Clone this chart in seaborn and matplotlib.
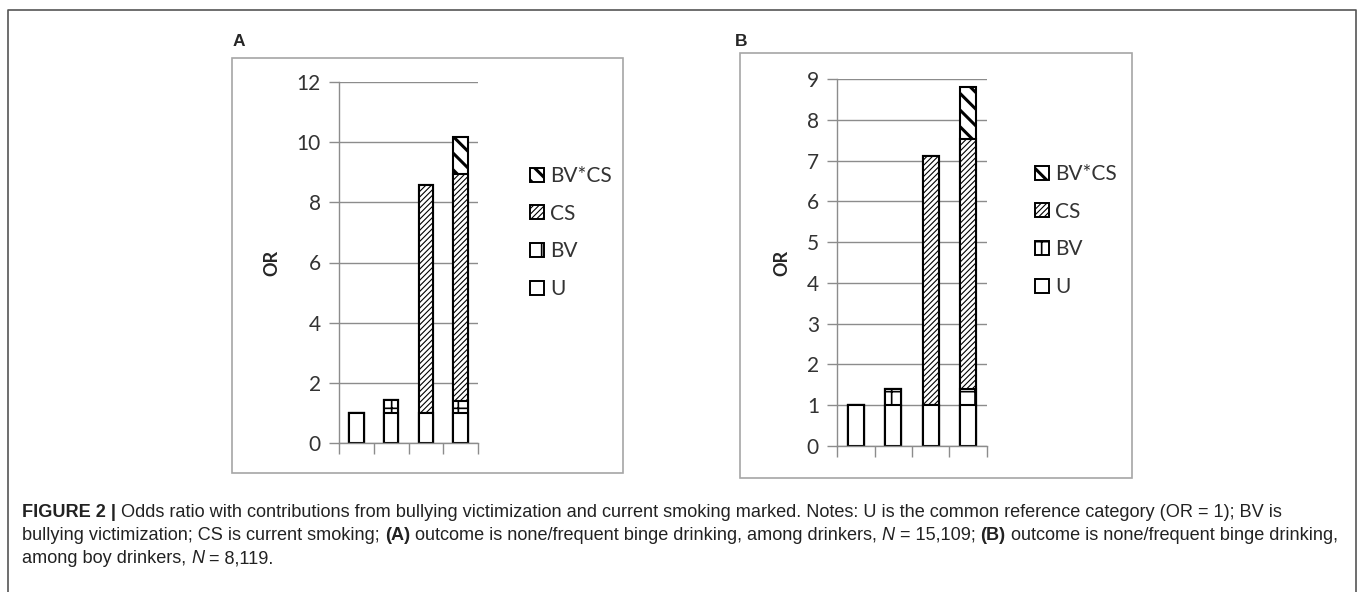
"""
Stacked odds-ratio bars (Excel look) for two panels with a figure caption.
"""

import matplotlib
matplotlib.use("Agg")
import matplotlib.pyplot as plt
from matplotlib.patches import Patch, Rectangle
from matplotlib.lines import Line2D
from matplotlib.font_manager import FontProperties
import seaborn as sns
import pandas as pd

W, H = 1357, 592

groups = ["U", "U+BV", "U+CS", "U+BV+CS"]
layers = ["U", "BV", "CS", "BV*CS"]

# panel A: drinkers
a_u = [1.0, 1.0, 1.0, 1.0]
a_bv = [0.0, 0.42, 0.0, 0.38]
a_cs = [0.0, 0.0, 7.58, 7.57]
a_bvcs = [0.0, 0.0, 0.0, 1.22]
a_yticks = [0, 2, 4, 6, 8, 10, 12]

# panel B: boy drinkers
b_u = [1.0, 1.0, 1.0, 1.0]
b_bv = [0.0, 0.41, 0.0, 0.41]
b_cs = [0.0, 0.0, 6.12, 6.13]
b_bvcs = [0.0, 0.0, 0.0, 1.27]
b_yticks = [0, 1, 2, 3, 4, 5, 6, 7, 8, 9]

HATCH = {"U": "", "BV": "+", "CS": "//////", "BV*CS": "\\\\"}
HATCH_LW = {"U": 1.0, "BV": 1.2, "CS": 0.8, "BV*CS": 2.2}

GRID = "#8c8c8c"
CHART_FONT = ["Lato", "DejaVu Sans"]
CAP_FONT = ["Liberation Sans", "DejaVu Sans"]

sns.set_theme(style="white")
plt.rcParams["font.family"] = CHART_FONT
plt.rcParams["hatch.color"] = "black"
plt.rcParams["hatch.linewidth"] = 1.0


def stacked(u, bv, cs, bvcs):
    rows = []
    for i, g in enumerate(groups):
        top = 0.0
        for name, vals in zip(layers, [u, bv, cs, bvcs]):
            top += vals[i]
            rows.append({"group": g, "layer": name, "top": top})
    return pd.DataFrame(rows)


def set_hlw(patch, name):
    if hasattr(patch, "set_hatch_linewidth"):
        patch.set_hatch_linewidth(HATCH_LW[name])


def draw_panel(ax, df, yticks):
    # tallest layer first, each lower layer painted over it
    for name in reversed(layers):
        before = len(ax.patches)
        sns.barplot(data=df[df["layer"] == name], x="group", y="top", order=groups,
                    color="white", saturation=1, width=0.42, edgecolor="black",
                    linewidth=1.5, hatch=HATCH[name], errorbar=None, ax=ax)
        for p in ax.patches[before:]:
            set_hlw(p, name)

    ax.set_xlim(-0.5, 3.5)
    ax.set_ylim(0, yticks[-1])
    ax.set_yticks(yticks)
    ax.set_xticks([-0.5, 0.5, 1.5, 2.5, 3.5])
    ax.set_xticklabels([])
    ax.set_xlabel("")
    ax.set_ylabel("OR", fontsize=13, fontweight="bold", labelpad=12)
    ax.yaxis.grid(True, color=GRID, linewidth=1)
    ax.set_axisbelow(True)
    for side in ["top", "right"]:
        ax.spines[side].set_visible(False)
    for side in ["left", "bottom"]:
        ax.spines[side].set_color(GRID)
        ax.spines[side].set_linewidth(1)
    ax.tick_params(axis="x", direction="out", length=8, width=1, color=GRID, bottom=True)
    ax.tick_params(axis="y", direction="out", length=7, width=1, color=GRID, left=True,
                   labelsize=15, labelcolor="#333333", pad=6)


def px_box(left, top, right, bottom):
    return [left / W, 1 - bottom / H, (right - left) / W, (bottom - top) / H]


fig = plt.figure(figsize=(W / 100, H / 100), dpi=100)
fig.patch.set_facecolor("white")

ax_a = fig.add_axes(px_box(339, 82, 478, 443))
ax_b = fig.add_axes(px_box(837, 79, 987, 446))

draw_panel(ax_a, stacked(a_u, a_bv, a_cs, a_bvcs), a_yticks)
draw_panel(ax_b, stacked(b_u, b_bv, b_cs, b_bvcs), b_yticks)

# legends, top entry BV*CS
for ax, (lx, ly) in [(ax_a, (530, 166)), (ax_b, (1035, 164))]:
    handles = [Patch(facecolor="white", edgecolor="black", linewidth=1.4,
                     hatch=HATCH[name], label=name) for name in reversed(layers)]
    leg = ax.legend(handles=handles, loc="upper left", bbox_to_anchor=(lx / W, 1 - ly / H),
                    bbox_transform=fig.transFigure, frameon=False, fontsize=15,
                    handlelength=0.65, handleheight=0.65, handletextpad=0.3,
                    labelspacing=0.85, borderaxespad=0, borderpad=0)
    for patch, name in zip(leg.get_patches(), reversed(layers)):
        set_hlw(patch, name)
    for t in leg.get_texts():
        t.set_color("#333333")

# panel boxes and letters
for (l, t, r, b), letter, (tx, ty) in [((232, 58, 623, 473), "A", (233, 42)),
                                       ((740, 53, 1132, 478), "B", (735, 42))]:
    fig.add_artist(Rectangle((l / W, 1 - b / H), (r - l) / W, (b - t) / H,
                             transform=fig.transFigure, fill=False,
                             edgecolor="#a6a6a6", linewidth=1.2))
    fig.text(tx / W, 1 - ty / H, letter, fontsize=12.5, fontweight="bold",
             family=CAP_FONT, va="center", ha="left")

# outer frame of the figure
fx0, fx1, fy0 = 8 / W, 1356 / W, 1 - 10 / H
fig.add_artist(Line2D([fx0, fx0, fx1, fx1], [0, fy0, fy0, 0], transform=fig.transFigure,
                      color="#555555", linewidth=1.2))

# caption with mixed styles
caption = [
    [("FIGURE 2 |", "bold", "normal"),
     (" Odds ratio with contributions from bullying victimization and current smoking marked. "
      "Notes: U is the common reference category (OR = 1); BV is", "normal", "normal")],
    [("bullying victimization; CS is current smoking; ", "normal", "normal"),
     ("(A)", "bold", "normal"),
     (" outcome is none/frequent binge drinking, among drinkers, ", "normal", "normal"),
     ("N", "normal", "italic"),
     (" = 15,109; ", "normal", "normal"),
     ("(B)", "bold", "normal"),
     (" outcome is none/frequent binge drinking,", "normal", "normal")],
    [("among boy drinkers, ", "normal", "normal"),
     ("N", "normal", "italic"),
     (" = 8,119.", "normal", "normal")],
]
baselines = [517, 540, 563]

renderer = fig.canvas.get_renderer()


def run_width(text, weight, style, size):
    prop = FontProperties(family=CAP_FONT, weight=weight, style=style, size=size)
    full = renderer.get_text_width_height_descent("|" + text + "|", prop, ismath=False)[0]
    bars = renderer.get_text_width_height_descent("||", prop, ismath=False)[0]
    return full - bars


ref_size = 10.0
line2_w = sum(run_width(t, w, s, ref_size) for t, w, s in caption[1])
cap_size = ref_size * (1340 - 22) / line2_w

for line, base in zip(caption, baselines):
    x = 22.0
    for text, weight, style in line:
        fig.text(x / W, 1 - base / H, text, family=CAP_FONT, fontweight=weight,
                 fontstyle=style, fontsize=cap_size, color="#222222", va="baseline", ha="left")
        x += run_width(text, weight, style, cap_size)

fig.savefig("out.png", dpi=100)
